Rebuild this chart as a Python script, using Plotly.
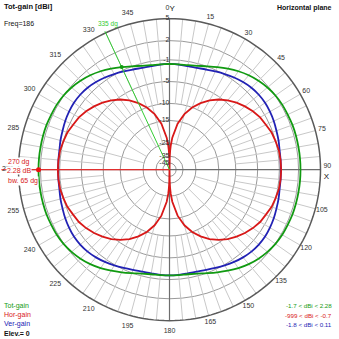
import numpy as np
import plotly.graph_objects as go

W, H = 339, 339

# Ring levels of the dBi scale and their labels
RING_DB = [5, 2, -1, -5, -10, -15, -25, -35, -45]
RING_LABELS = ["5", "2", "-1", "-5", "-10", "-15", "-25", "-35", "-45"]

# Compass labels around the outer circle
ANGLE_TICKS = list(range(0, 360, 15))
ANGLE_LABELS = [str(a) for a in ANGLE_TICKS]

# Vertical-polarisation gain (dBi), every 5 degrees
VER_DEG = list(range(0, 360, 5))
VER_DBI = [
    -1.70, -1.75, -1.80, -1.75, -1.55, -1.25, -0.90, -0.55, -0.25, -0.02,
    0.10, 0.11, 0.00, -0.15, -0.35, -0.50, -0.68, -0.73, -0.75,
    -0.73, -0.68, -0.50, -0.35, -0.15, 0.00, 0.11, 0.10, -0.02, -0.25,
    -0.55, -0.90, -1.25, -1.55, -1.75, -1.80, -1.75, -1.70,
    -1.75, -1.80, -1.75, -1.55, -1.25, -0.90, -0.55, -0.25, -0.02, 0.10,
    0.11, 0.00, -0.15, -0.35, -0.50, -0.68, -0.73, -0.75,
    -0.73, -0.68, -0.50, -0.35, -0.15, 0.00, 0.11, 0.10, -0.02, -0.25,
    -0.55, -0.90, -1.25, -1.55, -1.75, -1.80, -1.75,
]

# Total gain (dBi), every 5 degrees
TOT_DEG = list(range(0, 360, 5))
TOT_DBI = [
    -1.70, -1.70, -1.63, -1.39, -0.97, -0.45, 0.11, 0.66, 1.14, 1.53,
    1.83, 2.04, 2.16, 2.20, 2.26, 2.27, 2.27, 2.28, 2.28,
    2.28, 2.27, 2.27, 2.26, 2.20, 2.16, 2.04, 1.83, 1.53, 1.14,
    0.66, 0.11, -0.45, -0.97, -1.39, -1.63, -1.70, -1.70,
    -1.70, -1.63, -1.39, -0.97, -0.45, 0.11, 0.66, 1.14, 1.53, 1.83,
    2.04, 2.16, 2.20, 2.26, 2.27, 2.27, 2.28, 2.28,
    2.28, 2.27, 2.27, 2.26, 2.20, 2.16, 2.04, 1.83, 1.53, 1.14,
    0.66, 0.11, -0.45, -0.97, -1.39, -1.63, -1.70,
]

# Horizontal-polarisation gain (dBi), denser near the nulls
HOR_DEG = ([0, 1, 2, 3] + list(range(5, 176, 5)) + [177, 178, 179, 180, 181, 182, 183]
           + list(range(185, 356, 5)) + [357, 358, 359])
HOR_DBI = (
    [-999, -35.9, -29.8, -26.3]
    + [-21.9, -15.9, -12.4, -10.0, -8.2, -6.7, -5.5, -4.5, -3.7, -3.0, -2.4, -1.9,
       -1.6, -1.2, -1.0, -0.8, -0.73, -0.7, -0.73, -0.8, -1.0, -1.2, -1.6, -1.9,
       -2.4, -3.0, -3.7, -4.5, -5.5, -6.7, -8.2, -10.0, -12.4, -15.9, -21.9]
    + [-26.3, -29.8, -35.9, -999, -35.9, -29.8, -26.3]
    + [-21.9, -15.9, -12.4, -10.0, -8.2, -6.7, -5.5, -4.5, -3.7, -3.0, -2.4, -1.9,
       -1.6, -1.2, -1.0, -0.8, -0.73, -0.7, -0.73, -0.8, -1.0, -1.2, -1.6, -1.9,
       -2.4, -3.0, -3.7, -4.5, -5.5, -6.7, -8.2, -10.0, -12.4, -15.9, -21.9]
    + [-26.3, -29.8, -35.9]
)

MARK_DEG = 270
CURSOR_DEG = 335
BEAMWIDTH = 65
ELEVATION = 0
FREQ = 186

GREEN = "#119a11"
RED = "#d81818"
BLUE = "#2222b4"
FONT = "Liberation Sans"
RMAX = 1.115          # radial range: outer (5 dBi) circle sits at r = 1


def db_to_r(db):
    """Log-type gain scale: 5 dBi on the outer circle, compressing toward the centre."""
    d = 5.0 - np.asarray(db, dtype=float)
    return np.exp(-(0.0517 * d + 0.000215 * d * d))


def closed(deg, dbi):
    r = [float(v) for v in db_to_r(dbi)]
    return list(deg) + [deg[0] + 360], r + [r[0]]


fig = go.Figure()

# radial spokes: every 5 degrees in the outer band, every 15 degrees further in
r5, r15 = float(db_to_r(-10)), float(db_to_r(-25))
sp_r, sp_t = [], []
for a in range(0, 360, 5):
    if a % 90 == 0:
        continue
    sp_r += [r15 if a % 15 == 0 else r5, 1.0, None]
    sp_t += [a, a, None]
fig.add_trace(go.Scatterpolar(r=sp_r, theta=sp_t, mode="lines",
                              line=dict(color="#c8c8c8", width=1), hoverinfo="skip"))

# main axes through the centre
fig.add_trace(go.Scatterpolar(r=[1, 0, 1, None, 1, 0, 1], theta=[0, 0, 180, None, 90, 90, 270],
                              mode="lines", line=dict(color="#6e6e6e", width=1.2), hoverinfo="skip"))

# outer 5 dBi circle
ring_t = list(range(0, 361, 2))
fig.add_trace(go.Scatterpolar(r=[1.0] * len(ring_t), theta=ring_t, mode="lines",
                              line=dict(color="#5a5a5a", width=1.5), hoverinfo="skip"))

# gain patterns
t, r = closed(VER_DEG, VER_DBI)
fig.add_trace(go.Scatterpolar(r=r, theta=t, mode="lines", line=dict(color=BLUE, width=1.8, shape="spline")))
t, r = closed(HOR_DEG, HOR_DBI)
fig.add_trace(go.Scatterpolar(r=r, theta=t, mode="lines", line=dict(color=RED, width=1.8)))
t, r = closed(TOT_DEG, TOT_DBI)
fig.add_trace(go.Scatterpolar(r=r, theta=t, mode="lines", line=dict(color=GREEN, width=1.8, shape="spline")))

# cursor lines
fig.add_trace(go.Scatterpolar(r=[RMAX, 0], theta=[MARK_DEG, MARK_DEG], mode="lines",
                              line=dict(color="#ff2020", width=1), hoverinfo="skip"))
fig.add_trace(go.Scatterpolar(r=[1.012, 0], theta=[CURSOR_DEG, CURSOR_DEG], mode="lines",
                              line=dict(color="#33cc33", width=1), hoverinfo="skip"))

tot_at_mark = TOT_DBI[TOT_DEG.index(MARK_DEG)]
tot_at_cursor = TOT_DBI[TOT_DEG.index(CURSOR_DEG)]
fig.add_trace(go.Scatterpolar(r=[float(db_to_r(tot_at_mark))], theta=[MARK_DEG], mode="markers",
                              marker=dict(color="#ee1111", size=5)))
fig.add_trace(go.Scatterpolar(r=[float(db_to_r(tot_at_cursor))], theta=[CURSOR_DEG], mode="markers",
                              marker=dict(color="#119a11", size=4)))

# dB labels along the 0-degree axis
fig.add_trace(go.Scatterpolar(r=[float(v) for v in db_to_r(RING_DB)], theta=[0] * len(RING_DB),
                              mode="text", text=RING_LABELS, textposition="middle left",
                              textfont=dict(family=FONT, size=7, color="#333333"), hoverinfo="skip"))

# compass labels
pos = ["middle left" if a == 0 else ("top center" if a == 90 else "middle center") for a in ANGLE_TICKS]
lab_r = [1.045 if 0 < a < 180 else 1.07 for a in ANGLE_TICKS]
fig.add_trace(go.Scatterpolar(r=lab_r, theta=ANGLE_TICKS, mode="text",
                              text=ANGLE_LABELS, textposition=pos,
                              textfont=dict(family=FONT, size=7, color="#333333"), hoverinfo="skip"))
# axis names
fig.add_trace(go.Scatterpolar(r=[1.062, 1.04], theta=[0, 92.5], mode="text", text=["Y", "X"],
                              textposition=["middle right", "middle center"],
                              textfont=dict(family=FONT, size=8, color="#111111"), hoverinfo="skip"))
fig.add_trace(go.Scatterpolar(r=[1.045], theta=[CURSOR_DEG + 2], mode="text",
                              text=[f"{CURSOR_DEG} dg"], textposition="middle center",
                              textfont=dict(family=FONT, size=6.5, color="#33cc33"), hoverinfo="skip"))

cx, cy, R = 169.5, 169.7, 151.0
Rd = R * RMAX
fig.update_layout(
    width=W, height=H, autosize=False, showlegend=False,
    margin=dict(l=0, r=0, t=0, b=0),
    paper_bgcolor="white", plot_bgcolor="white",
    polar=dict(
        domain=dict(x=[(cx - Rd) / W, (cx + Rd) / W], y=[(H - cy - Rd) / H, (H - cy + Rd) / H]),
        bgcolor="rgba(0,0,0,0)",
        radialaxis=dict(range=[0, RMAX], tickvals=[float(v) for v in db_to_r(RING_DB[1:])],
                        showticklabels=False, ticks="", showline=False,
                        gridcolor="#9a9a9a", gridwidth=1),
        angularaxis=dict(rotation=90, direction="clockwise", showgrid=False, showticklabels=False,
                         ticks="", showline=False),
    ),
)


def note(text, x, y, color="#111111", size=7, anchor="left", bg=None):
    fig.add_annotation(text=text, x=x / W, y=1 - y / H, xref="paper", yref="paper",
                       xanchor=anchor, yanchor="middle", showarrow=False,
                       font=dict(family=FONT, size=size, color=color),
                       bgcolor=bg, borderpad=0)


def fmt(v):
    return f"{v:g}"


note("<b>Tot-gain [dBi]</b>", 3, 6, size=7.5)
note("<b>Horizontal plane</b>", 333, 8, anchor="right")
note(f"Freq={FREQ}", 3, 24)

note(f"{MARK_DEG} dg", 7, 161.5, color=RED, bg="white")
note(f"{tot_at_mark:.2f} dB", 6, 170, color=RED, bg="white")
note(f"bw. {BEAMWIDTH} dg", 7, 180.5, color=RED, bg="white")

note("Tot-gain", 3, 305.5, color=GREEN)
note("Hor-gain", 3, 315, color=RED)
note("Ver-gain", 3, 324, color=BLUE)
note(f"<b>Elev.= {ELEVATION}</b>", 3, 333)

note(f"{fmt(min(TOT_DBI))} < dBi < {fmt(max(TOT_DBI))}", 333, 305.5, color=GREEN, size=6.2, anchor="right")
note(f"{fmt(min(HOR_DBI))} < dBi < {fmt(max(HOR_DBI))}", 333, 315, color=RED, size=6.2, anchor="right")
note(f"{fmt(min(VER_DBI))} < dBi < {fmt(max(VER_DBI))}", 333, 324, color=BLUE, size=6.2, anchor="right")

fig.write_html("out.html")
